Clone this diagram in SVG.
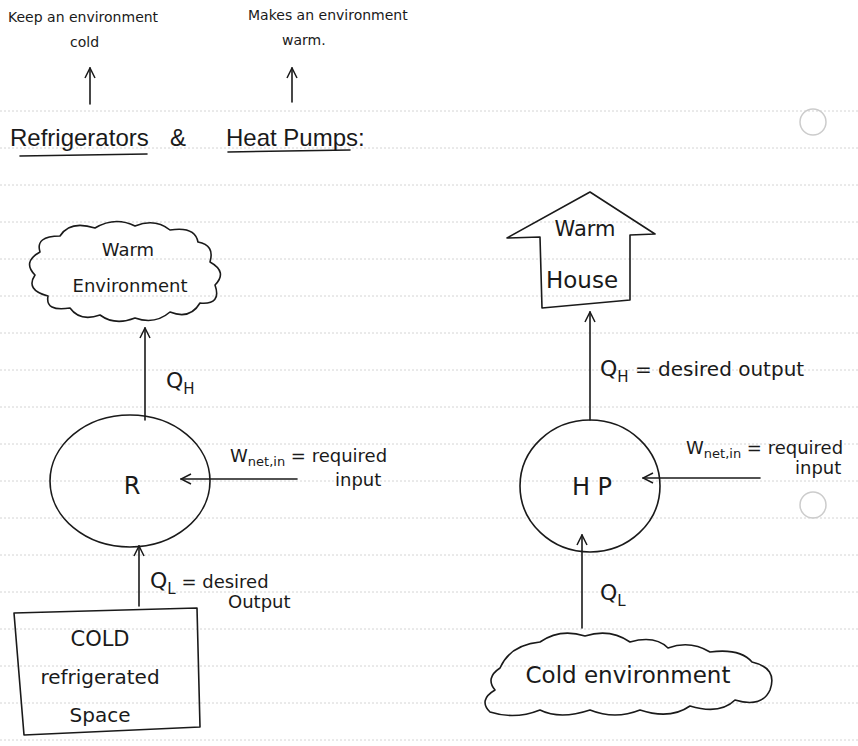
<svg xmlns="http://www.w3.org/2000/svg" width="858" height="746" viewBox="0 0 858 746">
<defs>
<style>
.rule{stroke:#d4d4d4;stroke-width:1;stroke-dasharray:2 2}
.hole{fill:none;stroke:#cccccc;stroke-width:1.5}
.ink{fill:none;stroke:#1a1a1a;stroke-width:1.6;stroke-linecap:round;stroke-linejoin:round}
.t{font-family:"DejaVu Sans","Liberation Sans",sans-serif;fill:#1a1a1a}
.s{font-size:14px}
.m{font-size:18px}
.l{font-size:22px}
</style>
<marker id="ah" viewBox="0 0 12 12" refX="11" refY="6" markerWidth="12" markerHeight="12" markerUnits="userSpaceOnUse" orient="auto">
<path d="M1 1 L11 6 L1 11" fill="none" stroke="#1a1a1a" stroke-width="1.5"/>
</marker>
</defs>
<rect width="858" height="746" fill="#ffffff"/>
<g id="paper">
<line class="rule" x1="0" y1="111" x2="858" y2="111"/>
<line class="rule" x1="0" y1="148" x2="858" y2="148"/>
<line class="rule" x1="0" y1="185" x2="858" y2="185"/>
<line class="rule" x1="0" y1="222" x2="858" y2="222"/>
<line class="rule" x1="0" y1="259" x2="858" y2="259"/>
<line class="rule" x1="0" y1="296" x2="858" y2="296"/>
<line class="rule" x1="0" y1="333" x2="858" y2="333"/>
<line class="rule" x1="0" y1="370" x2="858" y2="370"/>
<line class="rule" x1="0" y1="407" x2="858" y2="407"/>
<line class="rule" x1="0" y1="444" x2="858" y2="444"/>
<line class="rule" x1="0" y1="481" x2="858" y2="481"/>
<line class="rule" x1="0" y1="518" x2="858" y2="518"/>
<line class="rule" x1="0" y1="555" x2="858" y2="555"/>
<line class="rule" x1="0" y1="592" x2="858" y2="592"/>
<line class="rule" x1="0" y1="629" x2="858" y2="629"/>
<line class="rule" x1="0" y1="666" x2="858" y2="666"/>
<line class="rule" x1="0" y1="703" x2="858" y2="703"/>
<line class="rule" x1="0" y1="740" x2="858" y2="740"/>
<circle class="hole" cx="813" cy="122" r="13"/>
<circle class="hole" cx="813" cy="505" r="13"/>
</g>
<g id="heading">
<text class="t s" x="8" y="22">Keep an environment</text>
<text class="t s" x="70" y="47">cold</text>
<text class="t s" x="248" y="20">Makes an environment</text>
<text class="t s" x="282" y="45">warm.</text>
<line class="ink" x1="90" y1="104" x2="90" y2="68" marker-end="url(#ah)"/>
<line class="ink" x1="292" y1="102" x2="292" y2="68" marker-end="url(#ah)"/>
<text x="10" y="146" font-family="Liberation Sans, sans-serif" font-size="24" fill="#1a1a1a">Refrigerators<tspan x="170">&amp;</tspan><tspan x="226">Heat Pumps:</tspan></text>
<line class="ink" x1="20" y1="156" x2="147" y2="154"/>
<line class="ink" x1="228" y1="152" x2="350" y2="150"/>
</g>
<g id="connectors">
<line class="ink" x1="145" y1="420" x2="145" y2="328" marker-end="url(#ah)"/>
<line class="ink" x1="297" y1="479" x2="181" y2="479" marker-end="url(#ah)"/>
<line class="ink" x1="139" y1="606" x2="139" y2="546" marker-end="url(#ah)"/>
<line class="ink" x1="590" y1="420" x2="590" y2="312" marker-end="url(#ah)"/>
<line class="ink" x1="760" y1="478" x2="643" y2="478" marker-end="url(#ah)"/>
<line class="ink" x1="582" y1="628" x2="582" y2="535" marker-end="url(#ah)"/>
</g>
<g id="warm-environment">
<path class="ink" d="M40 252 Q35 236 60 236 Q70 220 95 228 Q115 216 135 226 Q155 218 170 230 Q195 226 198 242 Q215 245 210 262 Q228 272 215 285 Q222 305 200 303 Q190 320 170 312 Q155 325 135 318 Q115 326 100 315 Q80 322 70 308 Q45 312 48 296 Q25 290 35 275 Q22 262 40 252 Z"/>
<text class="t m" x="128" y="256" text-anchor="middle">Warm</text>
<text class="t m" x="130" y="292" text-anchor="middle">Environment</text>
</g>
<g id="refrigerator">
<ellipse class="ink" cx="130" cy="481" rx="80" ry="66"/>
<text class="t" x="132" y="494" font-size="24" text-anchor="middle">R</text>
</g>
<g id="cold-space">
<path class="ink" d="M14 613 L197 608 L200 727 L24 735 Z"/>
<text class="t" x="100" y="646" font-size="21" text-anchor="middle">COLD</text>
<text class="t" x="100" y="684" font-size="20" text-anchor="middle">refrigerated</text>
<text class="t" x="100" y="722" font-size="20" text-anchor="middle">Space</text>
</g>
<g id="left-labels">
<text class="t l" x="166" y="388">Q<tspan font-size="15" dy="6">H</tspan></text>
<text class="t m" x="230" y="462">W<tspan font-size="13" dy="4">net,in</tspan><tspan dy="-4"> = required</tspan></text>
<text class="t m" x="335" y="486">input</text>
<text class="t l" x="150" y="588">Q<tspan font-size="15" dy="6">L</tspan><tspan font-size="18" dy="-6"> = desired</tspan></text>
<text class="t m" x="228" y="608">Output</text>
</g>
<g id="warm-house">
<path class="ink" d="M507 238 L590 192 L655 234 L630 235 L630 300 L542 308 L540 237 Z"/>
<text class="t" x="585" y="236" font-size="21" text-anchor="middle">Warm</text>
<text class="t" x="582" y="288" font-size="23" text-anchor="middle">House</text>
</g>
<g id="heat-pump">
<ellipse class="ink" cx="590" cy="486" rx="70" ry="66"/>
<text class="t" x="592" y="495" font-size="24" text-anchor="middle">H P</text>
</g>
<g id="cold-environment">
<path class="ink" d="M500 668 Q510 645 540 642 Q560 628 585 636 Q610 628 630 642 Q655 635 668 648 Q690 640 710 652 Q740 648 752 662 Q778 668 770 690 Q762 708 735 700 Q720 715 690 706 Q670 720 640 710 Q615 720 590 710 Q560 720 540 710 Q515 720 490 712 Q478 700 495 690 Q485 678 500 668 Z"/>
<text class="t" x="628" y="683" font-size="23" text-anchor="middle">Cold environment</text>
</g>
<g id="right-labels">
<text class="t l" x="600" y="376">Q<tspan font-size="15" dy="6">H</tspan><tspan font-size="20" dy="-6"> = desired output</tspan></text>
<text class="t m" x="686" y="454">W<tspan font-size="13" dy="4">net,in</tspan><tspan dy="-4"> = required</tspan></text>
<text class="t m" x="795" y="474">input</text>
<text class="t l" x="600" y="600">Q<tspan font-size="15" dy="6">L</tspan></text>
</g>
</svg>
